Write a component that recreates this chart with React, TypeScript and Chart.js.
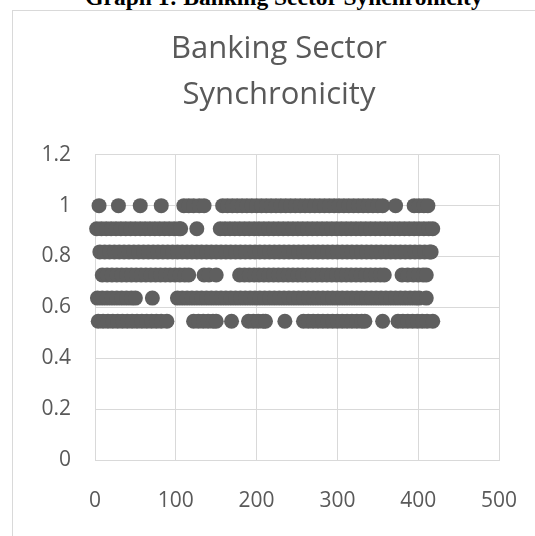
import { useEffect, useRef } from 'react';
import { Chart, registerables } from 'chart.js';

Chart.register(...registerables);

const pageTitle = 'Graph 1: Banking Sector Synchronicity';
const chartTitle = ['Banking Sector', 'Synchronicity'];

const xTickLabels = ['0', '100', '200', '300', '400', '500'];
const yTickLabels = ['0', '0.2', '0.4', '0.6', '0.8', '1', '1.2'];

// synchronicity levels (k / 11)
const yLevels = [1, 0.9091, 0.8182, 0.7273, 0.6364, 0.5455];

// observation indices found at each level
const xAt1000 = [5, 29, 56, 82, 110, 116, 122, 129, 135, 158, 164, 170, 176, 182, 188, 194, 200, 206, 212, 218, 224, 230, 236, 242, 248, 254, 260, 266, 272, 278, 284, 290, 296, 302, 308, 314, 320, 326, 332, 338, 344, 350, 356, 372, 395, 401, 407, 412];
const xAt0909 = [2, 8, 14, 20, 26, 32, 38, 44, 50, 56, 62, 68, 74, 80, 86, 92, 98, 104, 106, 126, 155, 161, 167, 173, 179, 185, 191, 197, 203, 209, 215, 221, 227, 233, 239, 245, 251, 257, 263, 269, 275, 281, 287, 293, 299, 305, 311, 317, 323, 329, 335, 341, 347, 353, 359, 365, 371, 377, 383, 389, 395, 401, 407, 413, 418];
const xAt0818 = [6, 12, 18, 24, 30, 36, 42, 48, 54, 60, 66, 72, 78, 84, 90, 96, 102, 108, 114, 120, 126, 132, 138, 144, 150, 156, 162, 168, 174, 180, 186, 192, 198, 204, 210, 216, 222, 228, 234, 240, 246, 252, 258, 264, 270, 276, 282, 288, 294, 300, 306, 312, 318, 324, 330, 336, 342, 348, 354, 360, 366, 372, 378, 384, 390, 396, 402, 408, 414, 416];
const xAt0727 = [9, 15, 21, 27, 33, 39, 45, 51, 57, 63, 69, 75, 81, 87, 93, 99, 105, 111, 116, 135, 141, 150, 179, 185, 191, 197, 203, 209, 215, 221, 227, 233, 239, 245, 251, 257, 263, 269, 275, 281, 287, 293, 299, 305, 311, 317, 323, 329, 335, 341, 347, 353, 358, 380, 387, 394, 400, 406, 410];
const xAt0636 = [3, 9, 15, 21, 27, 33, 39, 45, 50, 71, 102, 108, 114, 120, 126, 132, 138, 144, 150, 156, 162, 168, 174, 180, 186, 192, 198, 204, 210, 216, 222, 228, 234, 240, 246, 252, 258, 264, 270, 276, 282, 288, 294, 300, 306, 312, 318, 324, 330, 336, 342, 348, 354, 360, 366, 372, 378, 384, 390, 396, 401, 410];
const xAt0545 = [4, 10, 16, 22, 28, 34, 40, 46, 52, 58, 64, 70, 76, 82, 89, 122, 128, 134, 140, 146, 150, 169, 190, 196, 202, 208, 211, 235, 258, 264, 270, 276, 282, 288, 294, 300, 306, 312, 318, 324, 330, 334, 356, 375, 381, 387, 393, 399, 405, 411, 418];

const rows = [xAt1000, xAt0909, xAt0818, xAt0727, xAt0636, xAt0545];

const TEXT = '#595959';
const GRID = '#d9d9d9';
const MARK = '#5f5f5f';
const FONT = "'Open Sans', 'Noto Sans', sans-serif";

// center the chart title over the whole chart box (like Excel)
const titleCenterPlugin = {
  id: 'titleCenter',
  afterLayout(chart: any) {
    if (chart.titleBlock) {
      chart.titleBlock.left = 0;
      chart.titleBlock.right = chart.width;
    }
  },
};

export default function App() {
  const ref = useRef<HTMLCanvasElement | null>(null);

  useEffect(() => {
    if (!ref.current) return;
    const datasets = rows.map((xs, r) => ({
      label: String(yLevels[r]),
      data: xs.map((x) => ({ x, y: yLevels[r] })),
      backgroundColor: MARK,
      borderColor: MARK,
      pointBackgroundColor: MARK,
      pointBorderWidth: 0,
      pointRadius: 7.5,
      pointHoverRadius: 7.5,
      clip: false as any,
    }));
    const chart = new Chart(ref.current, {
      type: 'scatter',
      data: { datasets },
      plugins: [titleCenterPlugin],
      options: {
        responsive: false,
        animation: false,
        events: [],
        layout: { padding: { top: 16, left: 0, right: 47, bottom: 0 } },
        plugins: {
          legend: { display: false },
          tooltip: { enabled: false },
          title: {
            display: true,
            text: chartTitle,
            color: TEXT,
            font: { family: FONT, size: 31, weight: 'normal', lineHeight: 1.48 },
            padding: { top: 0, bottom: 37 },
          },
        },
        scales: {
          x: {
            type: 'linear',
            min: 0,
            max: 500,
            ticks: {
              stepSize: 100,
              padding: 28,
              color: TEXT,
              font: { family: FONT, size: 21 },
              callback: (_v: any, i: number) => xTickLabels[i],
            },
            grid: { color: GRID, drawTicks: false },
            border: { color: GRID },
            afterFit: (s: any) => { s.height = 90; },
          },
          y: {
            min: 0,
            max: 1.2,
            ticks: {
              stepSize: 0.2,
              padding: 24,
              color: TEXT,
              font: { family: FONT, size: 21 },
              callback: (_v: any, i: number) => yTickLabels[i],
            },
            grid: { color: GRID, drawTicks: false },
            border: { color: GRID },
            afterFit: (s: any) => { s.width = 83; },
          },
        },
      },
    });
    return () => chart.destroy();
  }, []);

  return (
    <div style={{ position: 'fixed', left: 0, top: 0, width: 535, height: 536, overflow: 'hidden', background: '#fff' }}>
      <div
        style={{
          position: 'absolute',
          left: 0,
          top: -13,
          width: 568,
          textAlign: 'center',
          fontFamily: "'Liberation Serif', 'Times New Roman', serif",
          fontWeight: 'bold',
          fontSize: 23.5,
          lineHeight: '21px',
          color: '#000',
          whiteSpace: 'nowrap',
        }}
      >
        {pageTitle}
      </div>
      <div
        style={{
          position: 'absolute',
          left: 12,
          top: 10,
          width: 560,
          height: 560,
          border: `1px solid ${GRID}`,
          background: '#fff',
          boxSizing: 'border-box',
        }}
      />
      <canvas ref={ref} width={534} height={540} style={{ position: 'absolute', left: 12, top: 10, width: 534, height: 540 }} />
    </div>
  );
}
